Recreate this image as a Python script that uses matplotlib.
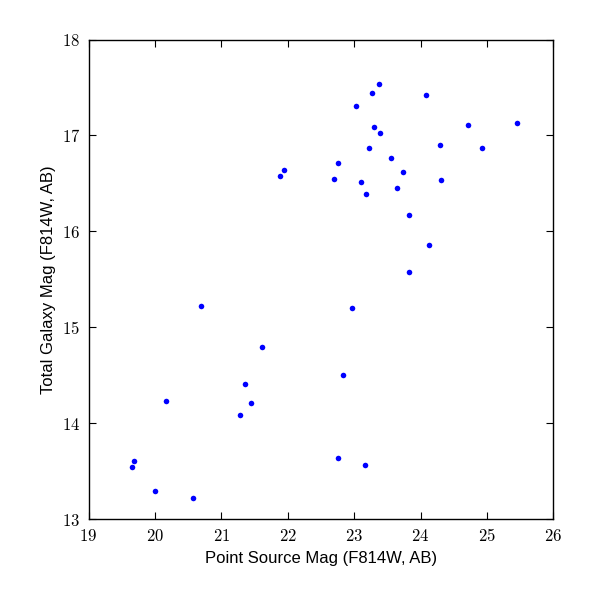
import matplotlib
matplotlib.use("Agg")
import matplotlib.pyplot as plt

point_mag = [23.38, 23.27, 24.08, 23.03, 24.71, 25.45, 23.30, 23.39, 24.30, 23.23,
             24.92, 23.56, 22.76, 21.94, 21.89, 22.70, 23.74, 23.10, 24.31, 23.64,
             23.18, 23.82, 24.13, 23.83, 20.70, 22.97, 21.62, 22.84, 21.36, 20.16,
             21.44, 21.28, 19.68, 19.65, 22.75, 23.16, 20.00, 20.58]
galaxy_mag = [17.54, 17.44, 17.42, 17.31, 17.11, 17.13, 17.09, 17.02, 16.90, 16.87,
              16.87, 16.76, 16.71, 16.64, 16.58, 16.55, 16.62, 16.51, 16.53, 16.45,
              16.39, 16.17, 15.86, 15.58, 15.22, 15.20, 14.79, 14.50, 14.41, 14.23,
              14.21, 14.08, 13.61, 13.54, 13.64, 13.56, 13.29, 13.22]

xticks = [19, 20, 21, 22, 23, 24, 25, 26]
yticks = [13, 14, 15, 16, 17, 18]

plt.rcParams['mathtext.fontset'] = 'cm'

fig = plt.figure(figsize=(6, 6), dpi=100)
ax = fig.add_axes([88.5/600, 1 - 519/600, (553.3 - 88.5)/600, (519 - 39.5)/600])
ax.plot(point_mag, galaxy_mag, 'o', color='#0000ff', markersize=4, markeredgewidth=0)
ax.set_xlim(19, 26)
ax.set_ylim(13, 18)
ax.set_xticks(xticks)
ax.set_xticklabels([r'$%d$' % t for t in xticks])
ax.set_yticks(yticks)
ax.set_yticklabels([r'$%d$' % t for t in yticks])
ax.tick_params(direction='in', top=True, right=True, length=5, width=0.8,
               labelsize=12, pad=6)
for s in ax.spines.values():
    s.set_linewidth(1.0)
ax.set_xlabel('Point Source Mag (F814W, AB)', family='Liberation Sans', fontsize=12)
ax.set_ylabel('Total Galaxy Mag (F814W, AB)', family='Liberation Sans', fontsize=12)
fig.savefig('out.png', dpi=100)
